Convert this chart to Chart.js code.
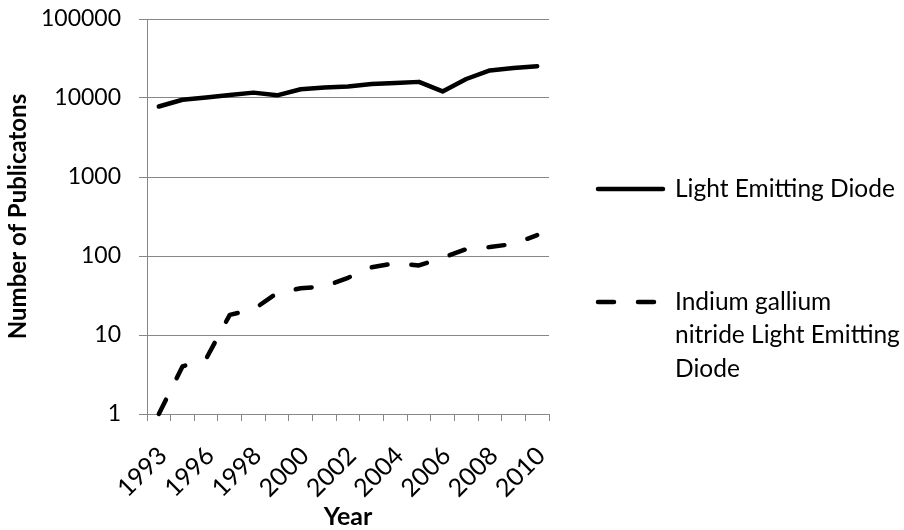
<!DOCTYPE html>
<html>
<head>
<meta charset="utf-8">
<script src="https://cdn.jsdelivr.net/npm/chart.js@4/dist/chart.umd.min.js"></script>
<style>
html,body{margin:0;padding:0;background:#fff;}
#wrap{width:904px;height:530px;position:relative;}
</style>
</head>
<body>
<div id="wrap"><canvas id="c" width="904" height="530"></canvas></div>
<script>
// ---- data ----
const years = ['1993','1995','1996','1997','1998','1999','2000','2001','2002','2003','2004','2005','2006','2007','2008','2009','2010'];
const ledPubs = [7800, 9500, 10150, 10900, 11700, 10800, 12900, 13600, 14000, 15000, 15500, 16000, 12100, 17400, 22300, 23900, 25300];
const inganPubs = [1, 4, 5, 18, 21, 34, 39, 41, 53, 72, 81, 76, 95, 122, 130, 142, 184];
const seriesNames = ['Light Emitting Diode', 'Indium gallium nitride Light Emitting Diode'];
const legendLines = [['Light Emitting Diode'], ['Indium gallium', 'nitride Light Emitting', 'Diode']];
const yTickValues = [1, 10, 100, 1000, 10000, 100000];
const xTitle = 'Year';
const yTitle = 'Number of Publicatons';

const FONT = 'Lato';
const GRID = '#878787';

const sideLegend = {
  id: 'sideLegend',
  afterDraw(chart, args, opts) {
    const ctx = chart.ctx;
    chart.data.datasets.forEach((ds, i) => {
      const y = opts.ys[i];
      ctx.save();
      ctx.strokeStyle = ds.borderColor;
      ctx.lineWidth = ds.borderWidth;
      ctx.lineCap = 'round';
      ctx.setLineDash(ds.borderDash || []);
      ctx.beginPath();
      ctx.moveTo(opts.x0, y);
      ctx.lineTo(opts.x1, y);
      ctx.stroke();
      ctx.setLineDash([]);
      ctx.fillStyle = '#000';
      ctx.font = opts.size + 'px ' + FONT;
      ctx.textBaseline = 'middle';
      ctx.textAlign = 'left';
      legendLines[i].forEach((t, k) => ctx.fillText(t, opts.tx, y + k * opts.lh));
      ctx.restore();
    });
  }
};

new Chart(document.getElementById('c'), {
  type: 'line',
  data: {
    labels: years,
    datasets: [
      { label: seriesNames[0], data: ledPubs, borderColor: '#000', borderWidth: 4.5,
        pointRadius: 0, tension: 0, borderCapStyle: 'round', borderJoinStyle: 'round', clip: false },
      { label: seriesNames[1], data: inganPubs, borderColor: '#000', borderWidth: 4.5,
        borderDash: [16, 24], pointRadius: 0, tension: 0, borderCapStyle: 'round', borderJoinStyle: 'round', clip: false }
    ]
  },
  options: {
    responsive: false,
    animation: false,
    devicePixelRatio: 1,
    layout: { padding: { top: 19, right: 355, left: 0, bottom: 0 } },
    plugins: {
      legend: { display: false },
      tooltip: { enabled: false },
      sideLegend: { x0: 598, x1: 663, tx: 675, ys: [189, 302], lh: 33.5, size: 24.5 }
    },
    scales: {
      x: {
        type: 'category',
        offset: true,
        grid: { offset: true, drawOnChartArea: false, drawTicks: true, tickLength: 7, color: GRID, tickColor: GRID },
        border: { color: GRID, width: 1 },
        ticks: {
          autoSkip: false, maxRotation: 45, minRotation: 45, padding: 20, labelOffset: 4,
          font: { family: FONT, size: 25 }, color: '#000',
          callback: (v, i) => (i % 2 === 0 ? years[i] : '')
        },
        title: { display: true, text: xTitle, color: '#000', font: { family: FONT, size: 25, weight: 'bold' }, padding: { top: 0, bottom: -2 } },
        afterFit: s => { s.height = 116; }
      },
      y: {
        type: 'logarithmic',
        min: 1, max: 100000,
        afterBuildTicks: s => { s.ticks = yTickValues.map(v => ({ value: v })); },
        grid: { color: GRID, tickColor: GRID, tickLength: 8, drawTicks: true },
        border: { color: GRID, width: 1 },
        ticks: { padding: 18, color: '#000', font: { family: FONT, size: 23 }, callback: v => String(v) },
        title: { display: true, text: yTitle, color: '#000', font: { family: FONT, size: 24, weight: 'bold' }, padding: { top: 4, bottom: 0 } },
        afterFit: s => { s.width = 147; s.paddingTop = 0; s.paddingBottom = 0; }
      }
    }
  },
  plugins: [sideLegend]
});
</script>
</body>
</html>
